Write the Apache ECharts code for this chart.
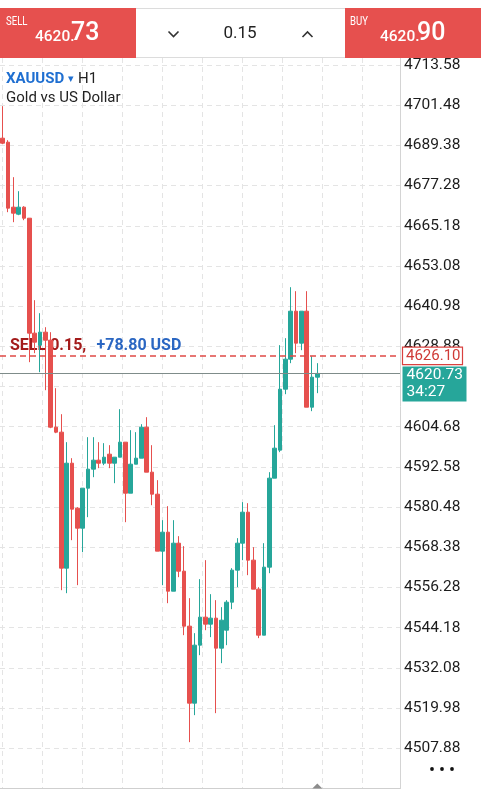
<!DOCTYPE html>
<html><head><meta charset="utf-8">
<script src="https://cdn.jsdelivr.net/npm/echarts@6/dist/echarts.min.js"></script>
<style>html,body{margin:0;padding:0;background:#fff;overflow:hidden}#c{width:481px;height:790px}</style>
</head><body><div id="c"></div>
<script>
// ---- data ----
const symbol = 'XAUUSD';
const timeframe = 'H1';
const description = 'Gold vs US Dollar';
const bidPrice = '4620.73';
const askPrice = '4620.90';
const lotSize = '0.15';
const currentPrice = 4620.73;
const countdown = '34:27';
const orderPrice = 4626.10;
const orderText = 'SELL 0.15,';
const profitText = '+78.80 USD';

const opens = [4691.55,4690.34,4670.78,4668.67,4670.78,4667.46,4632.85,4629.24,4633.15,4630.74,
4604.55,4603.05,4562.11,4593.71,4580.17,4574.15,4586.19,4591.91,4594.62,4593.71,
4596.42,4593.71,4595.52,4600.04,4584.68,4593.41,4595.22,4604.55,4591.01,4584.38,
4567.23,4572.94,4555.18,4569.63,4561.20,4544.65,4521.47,4538.93,4547.36,4545.25,
4547.06,4538.03,4543.44,4551.87,4561.51,4569.63,4578.96,4564.52,4555.79,4541.94,
4562.41,4589.20,4597.63,4615.99,4625.02,4639.47,4629.84,4639.47,4610.57,4619.60];
const closes = [4690.04,4670.48,4668.97,4670.78,4667.46,4632.85,4630.14,4633.15,4630.74,4604.55,
4603.05,4562.11,4593.71,4579.87,4574.15,4586.19,4591.91,4594.62,4593.71,4595.52,
4593.71,4595.52,4600.04,4584.68,4593.41,4595.22,4604.55,4591.01,4584.38,4567.23,
4572.94,4555.18,4569.63,4561.20,4544.65,4521.47,4538.93,4547.36,4545.25,4547.06,
4538.03,4546.45,4551.87,4561.51,4569.63,4578.96,4564.52,4555.79,4541.94,4562.41,
4589.20,4598.23,4615.99,4625.02,4639.47,4629.84,4639.47,4610.57,4619.60,4620.73];
const lows = [4689.74,4669.27,4666.26,4668.37,4666.86,4624.12,4626.83,4621.11,4615.69,4604.25,
4602.75,4555.48,4554.58,4570.54,4556.99,4566.92,4577.46,4589.50,4592.21,4593.11,
4592.21,4587.69,4595.52,4575.95,4584.68,4593.41,4595.22,4591.01,4581.07,4567.23,
4556.99,4551.57,4555.18,4559.40,4541.94,4509.73,4517.86,4535.92,4543.44,4541.34,
4518.46,4533.51,4538.93,4549.77,4556.39,4564.52,4560.00,4555.79,4541.04,4541.94,
4560.60,4589.20,4597.03,4614.48,4623.82,4626.83,4627.73,4610.57,4609.37,4614.79];
const highs = [4701.18,4690.94,4679.81,4675.59,4671.08,4667.46,4642.78,4638.87,4634.65,4633.15,
4616.29,4608.46,4600.04,4595.22,4580.47,4586.19,4601.54,4601.54,4600.04,4599.74,
4599.13,4595.52,4609.97,4600.04,4603.65,4603.05,4605.45,4607.56,4599.13,4588.60,
4576.56,4580.77,4576.56,4571.74,4568.73,4553.08,4542.54,4558.80,4564.52,4554.28,
4552.48,4550.37,4552.48,4562.11,4571.14,4581.98,4581.67,4568.43,4556.39,4569.63,
4591.01,4605.15,4629.24,4631.34,4646.69,4645.49,4639.47,4645.49,4625.92,4623.82];

// price-axis ticks: 4495.78, 4507.88 ... 4725.68
const tickMin = 4495.78;
const tickMax = 4725.68;
const tickStep = 12.10;
const emptySlots = 15; // blank space right of the last candle

// ---- build ----
const RED = '#e6504e', TEAL = '#26a69a', FONT = 'Roboto';
const nSlots = opens.length + emptySlots;
const cats = Array.from({length: nSlots}, (_, i) => 'h' + i);
const ohlc = opens.map((o, i) => [o, closes[i], lows[i], highs[i]]);

const chart = echarts.init(document.getElementById('c'), null, {renderer: 'canvas'});
chart.setOption({
  animation: false,
  backgroundColor: '#fff',
  grid: [
    {left: -0.5, right: 81, top: 24.8, bottom: 1.5},
    {left: 2, width: 360, top: 58, bottom: 1.5}
  ],
  xAxis: [
    {type: 'category', gridIndex: 0, data: cats, boundaryGap: true,
     axisLine: {show: true, lineStyle: {color: '#cfcfcf'}}, axisTick: {show: false},
     axisLabel: {show: false}, splitLine: {show: false}},
    {type: 'value', gridIndex: 1, min: 0, max: 360, interval: 40,
     axisLine: {show: false}, axisTick: {show: false}, axisLabel: {show: false},
     splitLine: {show: true, lineStyle: {color: '#e4e4e4', type: [5, 4], width: 1}}}
  ],
  yAxis: [
    {type: 'value', gridIndex: 0, position: 'right', min: tickMin, max: tickMax, interval: tickStep,
     axisLine: {show: true, lineStyle: {color: '#d4d4d4'}}, axisTick: {show: false},
     axisLabel: {show: true, margin: 4, color: '#1c1c1c', fontSize: 15.5, fontFamily: FONT,
       showMinLabel: false, showMaxLabel: false, formatter: v => v.toFixed(2)},
     splitLine: {show: true, lineStyle: {color: '#e4e4e4', type: [5, 4], width: 1}}},
    {type: 'value', gridIndex: 1, show: false, splitLine: {show: false}}
  ],
  series: [{
    type: 'candlestick', xAxisIndex: 0, yAxisIndex: 0, data: ohlc, barWidth: 4, z: 3,
    itemStyle: {color: TEAL, color0: RED, borderColor: TEAL, borderColor0: RED, borderWidth: 1},
    markLine: {
      silent: true, symbol: 'none', label: {show: false},
      data: [
        {yAxis: currentPrice, lineStyle: {color: '#7f8c8a', type: 'solid', width: 1}},
        {yAxis: orderPrice, lineStyle: {color: '#e04a46', type: [6, 4], width: 1.5}}
      ]
    }
  }]
});

const yCur = chart.convertToPixel({yAxisIndex: 0}, currentPrice);
const yOrd = chart.convertToPixel({yAxisIndex: 0}, orderPrice);
const xLast = chart.convertToPixel({xAxisIndex: 0}, opens.length - 1);
const txt = (x, y, text, font, fill, extra) => Object.assign({type: 'text', x: x, y: y, z: 100,
  style: {text: text, font: font, fill: fill, textAlign: 'left', textVerticalAlign: 'middle'}}, extra || {});

chart.setOption({graphic: [
  // header
  {type: 'rect', z: 100, shape: {x: 0, y: 0, width: 481, height: 58}, style: {fill: '#fff'}},
  {type: 'rect', z: 100, shape: {x: 0, y: 8, width: 136, height: 50}, style: {fill: RED}},
  {type: 'rect', z: 100, shape: {x: 345, y: 8, width: 136, height: 50}, style: {fill: RED}},
  {type: 'line', z: 100, shape: {x1: 136, y1: 8.5, x2: 345, y2: 8.5}, style: {stroke: '#dcdcdc', lineWidth: 1}},
  {type: 'line', z: 100, shape: {x1: 136, y1: 57.5, x2: 345, y2: 57.5}, style: {stroke: '#dcdcdc', lineWidth: 1}},
  txt(6, 22, 'SELL', '12px ' + FONT, '#fff', {scaleX: 0.8}),
  txt(35, 37.5, bidPrice.slice(0, -2), '500 15.5px ' + FONT, '#fff'),
  txt(71, 34, bidPrice.slice(-2), '500 25px ' + FONT, '#fff'),
  txt(350, 22, 'BUY', '12px ' + FONT, '#fff', {scaleX: 0.8}),
  txt(380, 37.5, askPrice.slice(0, -2), '500 15.5px ' + FONT, '#fff'),
  txt(417, 34, askPrice.slice(-2), '500 25px ' + FONT, '#fff'),
  {type: 'text', z: 100, x: 240, y: 34, style: {text: lotSize, font: '17px ' + FONT, fill: '#222', textAlign: 'center', textVerticalAlign: 'middle'}},
  {type: 'polyline', z: 100, shape: {points: [[168.5, 31.5], [173.5, 36.5], [178.5, 31.5]]}, style: {stroke: '#333', lineWidth: 1.6, fill: null}},
  {type: 'polyline', z: 100, shape: {points: [[302.5, 37], [307.5, 32], [312.5, 37]]}, style: {stroke: '#333', lineWidth: 1.6, fill: null}},
  // symbol title
  txt(6, 79, symbol, 'bold 15px ' + FONT, '#1f6fd1'),
  txt(68, 79, '▾', '11px ' + FONT, '#1f6fd1'),
  txt(78, 79, timeframe, '15px ' + FONT, '#222'),
  txt(6, 98, description, '15px ' + FONT, '#222'),
  // order line label (under the candles)
  txt(10, yOrd - 10, orderText, 'bold 16px ' + FONT, '#a31b1b', {z: 1}),
  txt(96.5, yOrd - 10, profitText, 'bold 16px ' + FONT, '#2a66c2', {z: 1}),
  // order price box
  {type: 'rect', z: 100, shape: {x: 402.5, y: yOrd - 8.5, width: 60, height: 17.5}, style: {fill: '#fff', stroke: '#d9413f', lineWidth: 1.2}},
  txt(406, yOrd + 0.5, orderPrice.toFixed(2), '15px ' + FONT, '#cf3a36'),
  // current price box
  {type: 'rect', z: 100, shape: {x: 402.5, y: yCur - 7, width: 64, height: 35}, style: {fill: TEAL}},
  txt(406.5, yCur + 2, currentPrice.toFixed(2), '15.5px ' + FONT, '#fff'),
  txt(406.5, yCur + 19, countdown, '15.5px ' + FONT, '#fff'),
  // bottom decorations
  {type: 'polygon', z: 100, shape: {points: [[xLast - 5, 788.5], [xLast, 783.5], [xLast + 5, 788.5]]}, style: {fill: '#8c8c8c'}},
  {type: 'circle', z: 100, shape: {cx: 432, cy: 769, r: 1.9}, style: {fill: '#111'}},
  {type: 'circle', z: 100, shape: {cx: 442, cy: 769, r: 1.9}, style: {fill: '#111'}},
  {type: 'circle', z: 100, shape: {cx: 452, cy: 769, r: 1.9}, style: {fill: '#111'}}
]});
</script></body></html>
